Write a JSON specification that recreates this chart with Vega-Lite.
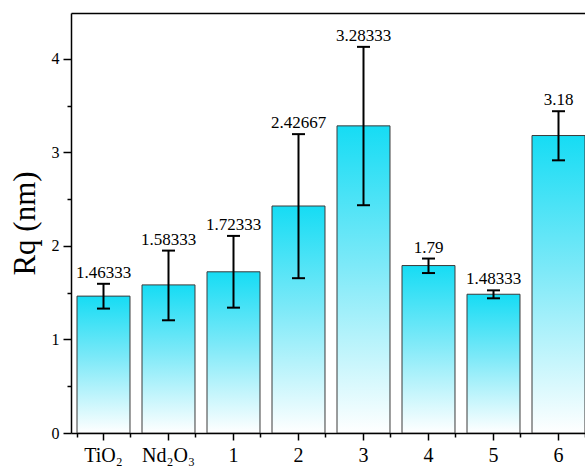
{
  "$schema": "https://vega.github.io/schema/vega-lite/v6.json",
  "width": 514,
  "height": 420,
  "autosize": {"type": "none"},
  "padding": {"left": 71, "top": 13, "right": 0, "bottom": 39},
  "config": {
    "view": {"stroke": null},
    "font": "Liberation Serif",
    "axis": {"domainColor": "#000", "tickColor": "#000", "labelColor": "#000", "titleColor": "#000", "grid": false, "labelFont": "Liberation Serif", "titleFont": "Liberation Serif"}
  },
  "data": {
    "values": [
      {"cat": "TiO₂", "value": 1.46333, "lo": 1.33, "hi": 1.595},
      {"cat": "Nd₂O₃", "value": 1.58333, "lo": 1.205, "hi": 1.95},
      {"cat": "1", "value": 1.72333, "lo": 1.34, "hi": 2.107},
      {"cat": "2", "value": 2.42667, "lo": 1.655, "hi": 3.195},
      {"cat": "3", "value": 3.28333, "lo": 2.435, "hi": 4.128},
      {"cat": "4", "value": 1.79, "lo": 1.71, "hi": 1.865},
      {"cat": "5", "value": 1.48333, "lo": 1.44, "hi": 1.525},
      {"cat": "6", "value": 3.18, "lo": 2.915, "hi": 3.44}
    ]
  },
  "layer": [
    {
      "mark": {"type": "bar", "clip": true, "stroke": "#3a3a3a", "strokeWidth": 1,
        "fill": {"gradient": "linear", "x1": 0, "y1": 0, "x2": 0, "y2": 1,
          "stops": [{"offset": 0, "color": "#16DCF4"}, {"offset": 0.45, "color": "#7CE9F8"}, {"offset": 1, "color": "#FFFFFF"}]}},
      "encoding": {
        "x": {"field": "cat", "type": "nominal", "sort": null,
          "scale": {"range": [0, 520], "paddingInner": 0.185, "paddingOuter": 0.0925},
          "axis": {"orient": "bottom", "title": null, "labelAngle": 0, "labelFontSize": 20, "tickSize": 7, "tickWidth": 1.5, "domainWidth": 1.5, "labelPadding": 5}},
        "y": {"field": "value", "type": "quantitative",
          "scale": {"domain": [0, 4.49], "nice": false, "zero": true},
          "axis": {"title": "Rq (nm)", "titleFontSize": 31, "titleFontWeight": "normal", "titlePadding": 10,
            "values": [0, 0.5, 1, 1.5, 2, 2.5, 3, 3.5, 4],
            "labelExpr": "datum.value % 1 === 0 ? format(datum.value, 'd') : ''",
            "labelFontSize": 16, "labelPadding": 4, "domainWidth": 1.5, "tickWidth": 1.5,
            "tickSize": {"condition": {"test": "datum.value % 1 === 0", "value": 8}, "value": 4}}}
      }
    },
    {
      "mark": {"type": "rule", "strokeWidth": 2, "color": "#000", "clip": true},
      "encoding": {
        "x": {"field": "cat", "type": "nominal", "sort": null,
          "axis": {"orient": "top", "title": null, "labels": false, "ticks": false, "domainWidth": 1.5}},
        "y": {"field": "lo", "type": "quantitative", "axis": {"title": "Rq (nm)"}},
        "y2": {"field": "hi"}
      }
    },
    {
      "mark": {"type": "tick", "size": 13, "thickness": 2, "color": "#000", "opacity": 1, "clip": true},
      "encoding": {
        "x": {"field": "cat", "type": "nominal", "sort": null, "axis": null},
        "y": {"field": "lo", "type": "quantitative", "axis": {"title": "Rq (nm)"}}
      }
    },
    {
      "mark": {"type": "tick", "size": 13, "thickness": 2, "color": "#000", "opacity": 1, "clip": true},
      "encoding": {
        "x": {"field": "cat", "type": "nominal", "sort": null, "axis": null},
        "y": {"field": "hi", "type": "quantitative", "axis": {"title": "Rq (nm)"}}
      }
    },
    {
      "mark": {"type": "text", "dy": -6, "fontSize": 17, "font": "Liberation Serif", "color": "#000", "baseline": "alphabetic", "clip": false},
      "encoding": {
        "x": {"field": "cat", "type": "nominal", "sort": null,
          "axis": {"orient": "bottom", "title": null, "labels": false, "domain": false, "tickBand": "extent", "tickSize": 4, "tickWidth": 1.5}},
        "y": {"field": "hi", "type": "quantitative", "axis": {"title": "Rq (nm)"}},
        "text": {"field": "value", "type": "nominal"}
      }
    }
  ],
  "resolve": {"axis": {"x": "independent"}}
}
